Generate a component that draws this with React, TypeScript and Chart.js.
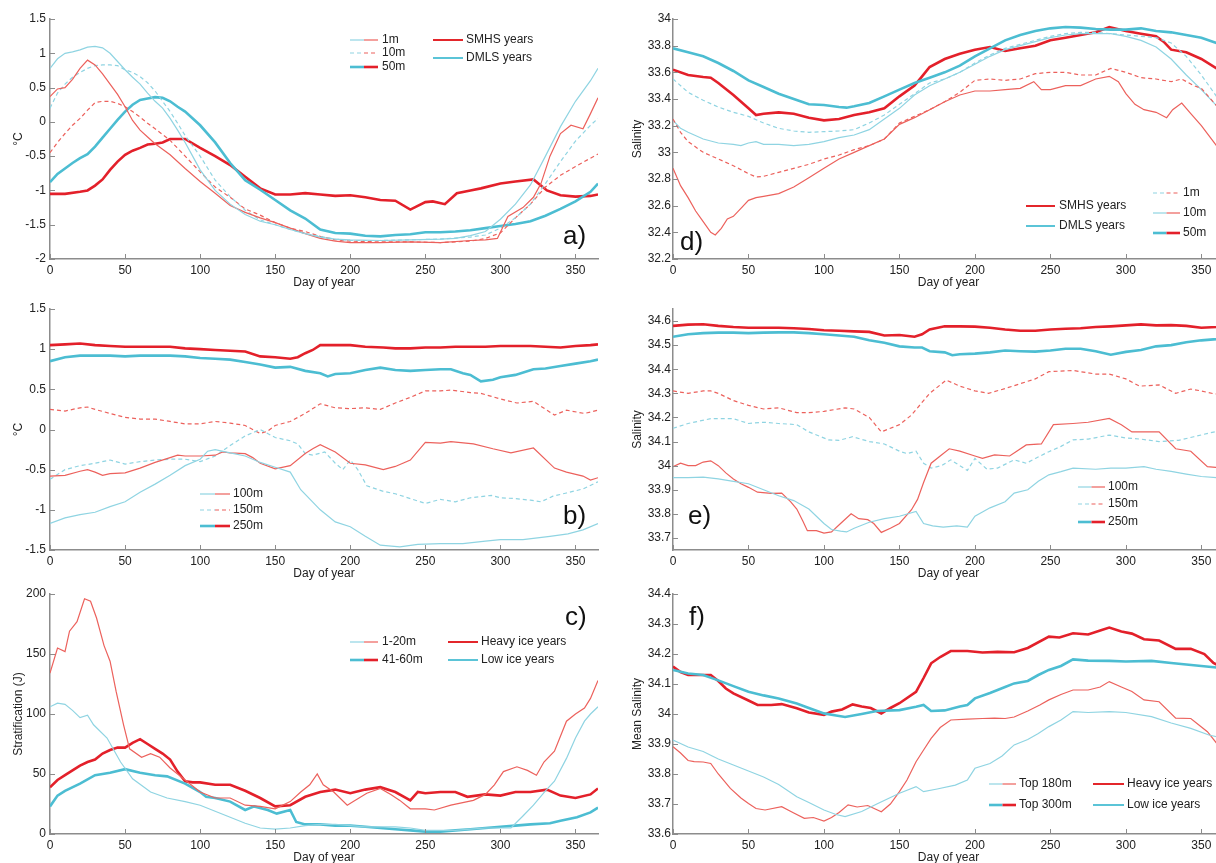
import React, { useEffect, useRef } from "react";
import { Chart, registerables } from "chart.js";
Chart.register(...registerables);

type Pt = [number, number];

// ---------- tick labels ----------
const X_TICKS = [0, 50, 100, 150, 200, 250, 300, 350];
const A_Y_TICKS = [-2, -1.5, -1, -0.5, 0, 0.5, 1, 1.5];
const B_Y_TICKS = [-1.5, -1, -0.5, 0, 0.5, 1, 1.5];
const C_Y_TICKS = [0, 50, 100, 150, 200];
const D_Y_TICKS = [32.2, 32.4, 32.6, 32.8, 33, 33.2, 33.4, 33.6, 33.8, 34];
const E_Y_TICKS = [33.7, 33.8, 33.9, 34, 34.1, 34.2, 34.3, 34.4, 34.5, 34.6];
const F_Y_TICKS = [33.6, 33.7, 33.8, 33.9, 34, 34.1, 34.2, 34.3, 34.4];

// ---------- panel a: temperature (°C), [day, value] ----------
const A_DMLS_1M: Pt[] = [[0,0.78],[5,0.92],[10,1.0],[15,1.02],[20,1.05],[25,1.09],[30,1.1],[35,1.08],[40,1.0],[45,0.88],[50,0.76],[55,0.65],[60,0.55],[65,0.42],[70,0.3],[75,0.2],[80,0.05],[85,-0.12],[90,-0.3],[95,-0.5],[100,-0.7],[110,-1.0],[120,-1.2],[130,-1.35],[140,-1.45],[150,-1.5],[160,-1.57],[170,-1.63],[180,-1.68],[190,-1.71],[200,-1.72],[220,-1.73],[240,-1.72],[260,-1.71],[270,-1.7],[280,-1.66],[290,-1.6],[300,-1.42],[310,-1.2],[320,-0.92],[330,-0.5],[340,-0.07],[350,0.3],[360,0.6],[365,0.78]];
const A_SMHS_1M: Pt[] = [[0,0.37],[5,0.48],[10,0.5],[15,0.62],[20,0.78],[25,0.9],[30,0.83],[35,0.7],[40,0.55],[45,0.4],[50,0.22],[55,0.02],[60,-0.12],[65,-0.22],[70,-0.32],[75,-0.4],[80,-0.48],[90,-0.68],[100,-0.87],[110,-1.04],[120,-1.22],[130,-1.32],[140,-1.4],[150,-1.47],[160,-1.55],[170,-1.63],[180,-1.7],[190,-1.74],[200,-1.76],[220,-1.76],[240,-1.75],[260,-1.76],[280,-1.73],[290,-1.72],[298,-1.7],[305,-1.38],[315,-1.25],[322,-1.1],[327,-0.9],[333,-0.5],[340,-0.17],[347,-0.05],[355,-0.1],[360,0.12],[365,0.35]];
const A_DMLS_10M: Pt[] = [[0,0.2],[5,0.42],[10,0.55],[15,0.65],[20,0.72],[25,0.78],[30,0.82],[35,0.83],[40,0.83],[45,0.82],[50,0.76],[55,0.72],[60,0.66],[65,0.57],[70,0.45],[75,0.3],[80,0.15],[85,-0.02],[90,-0.2],[100,-0.5],[110,-0.85],[120,-1.09],[130,-1.29],[140,-1.43],[150,-1.5],[160,-1.57],[170,-1.63],[180,-1.67],[190,-1.71],[200,-1.73],[220,-1.73],[240,-1.72],[260,-1.71],[280,-1.68],[290,-1.65],[300,-1.55],[310,-1.4],[320,-1.2],[330,-0.9],[340,-0.58],[350,-0.28],[360,-0.05],[365,0.05]];
const A_SMHS_10M: Pt[] = [[0,-0.45],[5,-0.3],[10,-0.17],[15,-0.05],[20,0.05],[25,0.17],[30,0.28],[35,0.3],[40,0.3],[45,0.27],[50,0.22],[55,0.15],[60,0.07],[65,-0.02],[70,-0.1],[80,-0.27],[90,-0.5],[100,-0.73],[110,-0.95],[120,-1.1],[130,-1.27],[140,-1.36],[150,-1.47],[160,-1.55],[170,-1.6],[180,-1.67],[190,-1.72],[200,-1.74],[220,-1.75],[240,-1.75],[260,-1.76],[280,-1.74],[290,-1.7],[300,-1.62],[310,-1.4],[320,-1.2],[330,-0.95],[340,-0.78],[350,-0.65],[360,-0.53],[365,-0.47]];
const A_DMLS_50M: Pt[] = [[0,-0.88],[5,-0.76],[10,-0.68],[15,-0.6],[20,-0.53],[25,-0.47],[30,-0.36],[35,-0.23],[40,-0.1],[45,0.03],[50,0.15],[55,0.25],[60,0.32],[65,0.34],[70,0.36],[75,0.35],[80,0.3],[85,0.22],[90,0.15],[100,-0.05],[110,-0.3],[120,-0.6],[130,-0.85],[140,-0.99],[150,-1.14],[160,-1.29],[170,-1.41],[180,-1.57],[190,-1.62],[200,-1.63],[210,-1.66],[220,-1.67],[230,-1.65],[240,-1.64],[250,-1.61],[260,-1.61],[270,-1.6],[280,-1.58],[290,-1.55],[300,-1.52],[310,-1.49],[320,-1.45],[330,-1.37],[340,-1.27],[350,-1.16],[360,-1.02],[365,-0.9]];
const A_SMHS_50M: Pt[] = [[0,-1.05],[10,-1.05],[20,-1.02],[25,-1.0],[30,-0.93],[35,-0.84],[40,-0.7],[45,-0.58],[50,-0.48],[55,-0.42],[60,-0.38],[65,-0.33],[70,-0.32],[75,-0.3],[80,-0.25],[90,-0.25],[100,-0.38],[110,-0.5],[120,-0.63],[130,-0.8],[140,-0.97],[150,-1.06],[160,-1.06],[170,-1.04],[180,-1.06],[190,-1.08],[200,-1.07],[210,-1.1],[220,-1.14],[230,-1.15],[240,-1.28],[250,-1.17],[255,-1.16],[263,-1.2],[271,-1.04],[280,-1.0],[287,-0.97],[300,-0.9],[310,-0.87],[322,-0.84],[331,-1.0],[340,-1.07],[350,-1.09],[360,-1.08],[365,-1.06]];

// ---------- panel b ----------
const B_DMLS_100: Pt[] = [[0,-1.17],[10,-1.1],[20,-1.06],[30,-1.03],[40,-0.96],[50,-0.9],[60,-0.78],[70,-0.68],[80,-0.57],[90,-0.45],[100,-0.37],[105,-0.27],[110,-0.25],[120,-0.29],[130,-0.33],[140,-0.41],[150,-0.47],[160,-0.53],[167,-0.75],[180,-1.0],[190,-1.15],[200,-1.21],[210,-1.33],[220,-1.44],[233,-1.46],[245,-1.43],[260,-1.42],[275,-1.42],[290,-1.39],[300,-1.37],[315,-1.37],[333,-1.33],[345,-1.3],[355,-1.25],[365,-1.17]];
const B_SMHS_100: Pt[] = [[0,-0.58],[10,-0.57],[20,-0.52],[25,-0.5],[30,-0.53],[35,-0.57],[40,-0.55],[50,-0.54],[60,-0.48],[70,-0.41],[80,-0.35],[85,-0.32],[90,-0.33],[100,-0.33],[110,-0.32],[115,-0.28],[120,-0.29],[130,-0.3],[135,-0.35],[140,-0.42],[150,-0.49],[160,-0.45],[170,-0.3],[175,-0.24],[180,-0.19],[190,-0.28],[200,-0.42],[210,-0.44],[222,-0.5],[230,-0.46],[240,-0.38],[250,-0.16],[260,-0.17],[267,-0.15],[282,-0.18],[295,-0.24],[307,-0.29],[322,-0.23],[336,-0.48],[344,-0.53],[355,-0.58],[360,-0.63],[365,-0.6]];
const B_DMLS_150: Pt[] = [[0,-0.62],[10,-0.5],[20,-0.45],[30,-0.42],[40,-0.38],[50,-0.43],[60,-0.4],[70,-0.38],[80,-0.37],[90,-0.37],[100,-0.4],[110,-0.33],[120,-0.2],[130,-0.08],[140,0.0],[150,-0.1],[160,-0.14],[165,-0.18],[170,-0.3],[175,-0.32],[183,-0.28],[190,-0.42],[195,-0.5],[200,-0.38],[205,-0.5],[211,-0.7],[222,-0.77],[230,-0.8],[240,-0.86],[250,-0.92],[260,-0.87],[270,-0.9],[280,-0.85],[294,-0.82],[300,-0.85],[310,-0.86],[320,-0.88],[327,-0.9],[335,-0.83],[344,-0.79],[355,-0.74],[365,-0.65]];
const B_SMHS_150: Pt[] = [[0,0.25],[10,0.23],[20,0.27],[25,0.28],[30,0.25],[40,0.2],[50,0.15],[60,0.13],[70,0.13],[80,0.1],[90,0.07],[100,0.07],[110,0.1],[120,0.08],[130,0.05],[140,-0.05],[145,-0.02],[150,0.05],[160,0.1],[170,0.2],[180,0.32],[190,0.27],[200,0.26],[210,0.27],[220,0.25],[230,0.33],[240,0.4],[250,0.48],[260,0.48],[267,0.49],[280,0.46],[287,0.45],[300,0.38],[311,0.33],[322,0.35],[336,0.18],[344,0.24],[356,0.2],[365,0.24]];
const B_DMLS_250: Pt[] = [[0,0.85],[10,0.9],[20,0.92],[30,0.92],[40,0.92],[50,0.91],[60,0.92],[70,0.92],[80,0.92],[90,0.91],[100,0.89],[110,0.88],[120,0.87],[130,0.84],[140,0.81],[150,0.77],[160,0.78],[170,0.73],[180,0.7],[185,0.66],[190,0.69],[200,0.7],[210,0.74],[220,0.77],[230,0.74],[240,0.73],[250,0.74],[260,0.75],[267,0.75],[275,0.7],[280,0.68],[287,0.6],[295,0.62],[300,0.65],[310,0.68],[322,0.75],[330,0.76],[340,0.79],[350,0.82],[360,0.85],[365,0.87]];
const B_SMHS_250: Pt[] = [[0,1.05],[10,1.06],[20,1.07],[30,1.05],[40,1.04],[50,1.03],[60,1.03],[70,1.03],[80,1.03],[90,1.01],[100,1.0],[110,0.99],[120,0.98],[130,0.97],[140,0.91],[150,0.9],[160,0.88],[165,0.9],[170,0.95],[175,0.99],[180,1.05],[190,1.05],[200,1.05],[210,1.03],[222,1.02],[230,1.01],[240,1.01],[250,1.02],[260,1.02],[270,1.03],[280,1.03],[290,1.03],[300,1.04],[310,1.04],[320,1.04],[330,1.03],[340,1.02],[350,1.04],[360,1.05],[365,1.06]];

// ---------- panel c: stratification ----------
const C_LOW_1_20: Pt[] = [[0,106],[5,109],[10,108],[15,103],[20,97],[25,99],[29,91],[38,80],[47,60],[55,46],[67,35],[78,30],[90,27],[100,24],[110,19],[120,14],[130,9],[140,5],[150,4],[160,5],[170,7],[180,8],[190,8],[200,7],[210,6],[220,6],[230,6],[240,5],[250,3],[260,3],[270,3],[280,4],[290,5],[300,5],[307,5],[315,15],[322,24],[330,36],[336,44],[344,63],[350,80],[356,94],[360,100],[365,106]];
const C_HEAVY_1_20: Pt[] = [[0,134],[5,155],[10,152],[13,169],[18,177],[23,196],[27,194],[31,180],[36,157],[40,144],[44,119],[49,91],[53,71],[61,64],[67,67],[73,64],[80,55],[90,45],[100,35],[110,30],[120,30],[130,24],[140,23],[150,21],[160,27],[167,35],[173,41],[178,50],[182,41],[189,35],[198,24],[202,27],[211,34],[220,38],[227,33],[233,28],[240,21],[250,21],[256,20],[267,24],[282,28],[290,33],[296,41],[302,52],[311,56],[318,53],[324,49],[329,60],[336,69],[344,94],[350,100],[356,105],[360,113],[365,128]];
const C_LOW_41_60: Pt[] = [[0,23],[5,32],[10,36],[20,42],[30,49],[40,51],[50,54],[60,51],[70,49],[78,48],[90,42],[100,35],[104,31],[110,30],[120,27],[130,20],[136,23],[145,20],[151,17],[160,20],[164,10],[170,8],[180,8],[190,7],[200,7],[210,6],[220,5],[230,4],[240,3],[250,2],[260,2],[270,3],[280,4],[290,5],[300,6],[310,7],[320,8],[333,9],[340,11],[351,14],[360,18],[365,22]];
const C_HEAVY_41_60: Pt[] = [[0,39],[5,45],[10,49],[15,53],[20,57],[25,60],[30,62],[35,67],[40,70],[45,72],[50,72],[55,76],[60,79],[65,75],[70,71],[75,67],[80,62],[85,52],[90,44],[95,43],[100,43],[110,41],[120,41],[130,36],[140,30],[150,23],[160,24],[170,31],[180,35],[190,37],[200,34],[210,37],[220,39],[230,35],[240,28],[245,35],[250,34],[260,35],[270,35],[278,31],[290,33],[300,32],[310,35],[320,35],[331,37],[340,32],[350,30],[360,33],[365,38]];

// ---------- panel d: salinity ----------
const D_DMLS_1M: Pt[] = [[0,33.55],[10,33.45],[20,33.39],[30,33.34],[40,33.3],[50,33.27],[60,33.22],[70,33.18],[80,33.16],[90,33.15],[100,33.155],[110,33.16],[120,33.17],[130,33.22],[140,33.28],[150,33.36],[160,33.44],[170,33.52],[180,33.55],[190,33.6],[200,33.67],[210,33.73],[220,33.78],[230,33.81],[240,33.84],[250,33.87],[260,33.89],[270,33.9],[280,33.9],[290,33.89],[300,33.88],[310,33.87],[320,33.86],[330,33.82],[340,33.72],[350,33.58],[360,33.42],[365,33.35]];
const D_SMHS_1M: Pt[] = [[0,33.25],[5,33.15],[10,33.08],[20,33.0],[30,32.95],[40,32.9],[50,32.84],[55,32.815],[60,32.82],[70,32.85],[80,32.88],[90,32.91],[100,32.95],[110,32.98],[120,33.02],[130,33.05],[140,33.1],[150,33.22],[160,33.27],[170,33.32],[180,33.38],[190,33.45],[200,33.54],[210,33.55],[220,33.54],[230,33.55],[240,33.59],[250,33.6],[260,33.6],[270,33.58],[280,33.58],[290,33.63],[300,33.6],[310,33.56],[320,33.55],[330,33.53],[337,33.55],[345,33.5],[350,33.48],[360,33.35],[365,33.3]];
const D_DMLS_10M: Pt[] = [[0,33.24],[5,33.18],[10,33.15],[20,33.1],[30,33.07],[40,33.06],[45,33.05],[50,33.07],[55,33.08],[60,33.06],[70,33.06],[80,33.05],[90,33.06],[100,33.08],[110,33.11],[120,33.13],[130,33.17],[140,33.25],[150,33.33],[160,33.43],[170,33.5],[180,33.55],[190,33.6],[200,33.66],[210,33.72],[220,33.77],[230,33.8],[240,33.83],[250,33.86],[260,33.88],[270,33.89],[280,33.89],[290,33.89],[300,33.87],[310,33.84],[320,33.79],[330,33.7],[340,33.58],[350,33.47],[360,33.35],[365,33.3]];
const D_SMHS_10M: Pt[] = [[0,32.88],[5,32.75],[10,32.66],[15,32.56],[20,32.48],[25,32.4],[28,32.38],[32,32.43],[36,32.5],[40,32.52],[45,32.58],[50,32.64],[55,32.66],[60,32.67],[70,32.69],[80,32.74],[90,32.81],[100,32.88],[110,32.95],[120,33.0],[130,33.05],[140,33.1],[150,33.21],[160,33.26],[170,33.32],[180,33.38],[190,33.43],[200,33.46],[210,33.46],[220,33.47],[230,33.48],[239,33.53],[244,33.47],[250,33.47],[260,33.5],[270,33.5],[280,33.55],[289,33.57],[295,33.53],[300,33.44],[306,33.36],[312,33.32],[320,33.3],[327,33.26],[331,33.32],[337,33.37],[343,33.29],[350,33.2],[360,33.05],[365,32.98]];
const D_DMLS_50M: Pt[] = [[0,33.78],[10,33.75],[20,33.72],[30,33.67],[40,33.61],[50,33.54],[60,33.49],[70,33.44],[80,33.4],[90,33.36],[100,33.355],[110,33.34],[115,33.335],[120,33.345],[130,33.37],[140,33.42],[150,33.47],[160,33.52],[170,33.56],[180,33.6],[190,33.65],[200,33.72],[210,33.78],[220,33.84],[230,33.88],[240,33.91],[250,33.93],[260,33.94],[270,33.935],[280,33.925],[290,33.92],[300,33.92],[310,33.93],[320,33.91],[330,33.9],[340,33.88],[350,33.86],[360,33.82],[365,33.8]];
const D_SMHS_50M: Pt[] = [[0,33.62],[10,33.58],[20,33.565],[25,33.56],[30,33.52],[40,33.43],[50,33.33],[55,33.28],[60,33.29],[70,33.3],[80,33.29],[90,33.26],[100,33.24],[110,33.25],[120,33.28],[130,33.3],[140,33.33],[150,33.42],[160,33.5],[165,33.57],[170,33.64],[180,33.7],[190,33.74],[200,33.77],[210,33.79],[220,33.76],[230,33.78],[240,33.8],[250,33.84],[260,33.86],[270,33.88],[280,33.9],[289,33.94],[300,33.91],[310,33.89],[320,33.87],[325,33.83],[330,33.77],[340,33.75],[350,33.7],[360,33.63],[365,33.61]];

// ---------- panel e ----------
const E_DMLS_100: Pt[] = [[0,33.95],[10,33.95],[20,33.952],[30,33.945],[40,33.935],[50,33.925],[60,33.9],[70,33.875],[80,33.855],[90,33.82],[100,33.76],[105,33.735],[111,33.728],[115,33.725],[120,33.74],[130,33.765],[140,33.78],[150,33.79],[161,33.81],[166,33.76],[172,33.75],[179,33.745],[188,33.75],[195,33.745],[200,33.79],[210,33.825],[220,33.85],[226,33.886],[235,33.9],[242,33.935],[249,33.962],[257,33.975],[265,33.99],[280,33.985],[290,33.99],[300,33.99],[312,33.996],[320,33.985],[330,33.976],[340,33.965],[350,33.955],[360,33.95],[365,33.948]];
const E_SMHS_100: Pt[] = [[0,33.996],[5,34.01],[10,34.0],[15,34.0],[20,34.015],[25,34.02],[30,34.0],[35,33.97],[40,33.945],[45,33.925],[50,33.91],[56,33.89],[65,33.885],[72,33.886],[78,33.85],[82,33.82],[86,33.77],[89,33.73],[95,33.73],[100,33.72],[105,33.725],[111,33.76],[118,33.8],[123,33.78],[129,33.776],[133,33.76],[138,33.723],[144,33.74],[150,33.76],[158,33.817],[162,33.86],[166,33.93],[171,34.01],[177,34.04],[183,34.07],[190,34.06],[200,34.04],[205,34.03],[213,34.045],[223,34.04],[234,34.086],[244,34.09],[252,34.17],[265,34.175],[275,34.18],[289,34.196],[297,34.17],[304,34.14],[315,34.14],[322,34.14],[333,34.07],[343,34.06],[354,33.996],[365,33.99]];
const E_DMLS_150: Pt[] = [[0,34.155],[10,34.175],[25,34.195],[40,34.195],[50,34.175],[60,34.18],[70,34.175],[82,34.17],[90,34.14],[103,34.107],[110,34.105],[119,34.12],[130,34.1],[140,34.09],[150,34.06],[155,34.05],[161,34.06],[166,34.01],[171,33.99],[178,34.0],[184,34.024],[190,34.0],[195,33.98],[200,34.03],[208,33.985],[215,33.99],[226,34.024],[234,34.01],[240,34.03],[249,34.058],[257,34.08],[265,34.107],[275,34.11],[289,34.127],[300,34.115],[310,34.11],[322,34.1],[335,34.105],[345,34.12],[355,34.135],[365,34.148]];
const E_SMHS_150: Pt[] = [[0,34.31],[10,34.3],[20,34.31],[25,34.31],[30,34.3],[40,34.27],[50,34.25],[60,34.235],[70,34.24],[82,34.22],[90,34.22],[100,34.225],[114,34.24],[120,34.235],[130,34.2],[138,34.14],[150,34.17],[158,34.21],[170,34.3],[181,34.355],[190,34.33],[200,34.31],[209,34.3],[220,34.32],[230,34.34],[240,34.36],[249,34.39],[265,34.395],[280,34.38],[289,34.38],[300,34.36],[309,34.33],[322,34.335],[333,34.3],[343,34.318],[350,34.31],[359,34.297],[365,34.3]];
const E_DMLS_250: Pt[] = [[0,34.535],[10,34.545],[20,34.55],[30,34.552],[40,34.552],[50,34.55],[60,34.552],[70,34.553],[80,34.553],[90,34.55],[100,34.545],[110,34.54],[120,34.535],[130,34.52],[140,34.51],[150,34.495],[160,34.49],[165,34.49],[170,34.475],[180,34.47],[185,34.458],[190,34.462],[200,34.465],[210,34.47],[220,34.478],[230,34.475],[240,34.473],[250,34.478],[260,34.485],[270,34.485],[280,34.475],[290,34.46],[300,34.472],[310,34.48],[320,34.495],[330,34.5],[340,34.512],[350,34.52],[360,34.525],[365,34.53]];
const E_SMHS_250: Pt[] = [[0,34.58],[10,34.585],[20,34.587],[30,34.58],[40,34.575],[50,34.572],[60,34.572],[70,34.572],[80,34.57],[90,34.567],[100,34.562],[110,34.56],[120,34.557],[130,34.555],[140,34.54],[150,34.542],[160,34.535],[165,34.545],[170,34.565],[180,34.578],[190,34.578],[200,34.577],[210,34.572],[220,34.565],[230,34.56],[240,34.56],[250,34.565],[260,34.568],[270,34.57],[280,34.575],[290,34.578],[300,34.582],[310,34.586],[320,34.582],[330,34.583],[340,34.58],[350,34.572],[360,34.575],[365,34.578]];

// ---------- panel f: mean salinity ----------
const F_LOW_180: Pt[] = [[0,33.913],[10,33.89],[20,33.875],[30,33.85],[40,33.83],[50,33.81],[60,33.79],[70,33.765],[82,33.724],[90,33.705],[100,33.68],[108,33.665],[114,33.658],[125,33.675],[135,33.7],[150,33.736],[161,33.758],[166,33.741],[175,33.75],[187,33.763],[195,33.78],[200,33.819],[210,33.835],[218,33.86],[226,33.897],[235,33.915],[242,33.935],[249,33.958],[257,33.98],[265,34.008],[275,34.005],[289,34.008],[300,34.005],[317,33.991],[330,33.97],[343,33.952],[355,33.93],[365,33.919]];
const F_HEAVY_180: Pt[] = [[0,33.891],[5,33.87],[10,33.845],[14,33.841],[20,33.84],[25,33.835],[30,33.8],[38,33.752],[45,33.72],[50,33.702],[55,33.685],[61,33.68],[72,33.691],[80,33.67],[87,33.652],[93,33.655],[100,33.643],[105,33.655],[110,33.672],[116,33.697],[122,33.69],[129,33.695],[138,33.674],[144,33.7],[150,33.741],[155,33.78],[161,33.841],[166,33.88],[171,33.919],[177,33.955],[184,33.98],[195,33.983],[205,33.985],[213,33.986],[220,33.985],[226,33.99],[235,34.01],[243,34.03],[249,34.047],[257,34.065],[265,34.08],[275,34.08],[283,34.09],[289,34.108],[297,34.09],[304,34.075],[312,34.047],[322,34.041],[333,33.986],[343,33.985],[354,33.941],[361,33.897],[365,33.89]];
const F_LOW_300: Pt[] = [[0,34.147],[10,34.135],[20,34.13],[30,34.112],[40,34.093],[50,34.074],[60,34.062],[70,34.052],[82,34.035],[90,34.02],[100,34.002],[108,33.995],[114,33.99],[125,34.0],[135,34.01],[150,34.013],[161,34.024],[166,34.03],[171,34.01],[180,34.012],[190,34.025],[195,34.03],[200,34.052],[210,34.07],[220,34.09],[226,34.102],[235,34.11],[242,34.13],[249,34.147],[257,34.16],[265,34.182],[275,34.178],[289,34.177],[300,34.175],[317,34.177],[330,34.17],[340,34.165],[350,34.16],[360,34.155],[365,34.152]];
const F_HEAVY_300: Pt[] = [[0,34.158],[5,34.14],[10,34.13],[20,34.13],[25,34.13],[30,34.11],[35,34.085],[40,34.069],[50,34.045],[56,34.03],[65,34.03],[72,34.033],[82,34.019],[90,34.005],[100,33.997],[105,34.008],[112,34.015],[119,34.032],[125,34.025],[131,34.02],[138,34.002],[144,34.02],[150,34.036],[161,34.074],[166,34.12],[171,34.169],[177,34.19],[184,34.21],[195,34.21],[205,34.205],[215,34.207],[226,34.206],[235,34.22],[249,34.258],[256,34.255],[265,34.269],[275,34.265],[283,34.278],[289,34.288],[297,34.275],[304,34.268],[312,34.249],[322,34.245],[333,34.217],[343,34.217],[352,34.2],[358,34.17],[365,34.152]];

// ---------- styles ----------
const FONT = '"Liberation Sans", Arial, Helvetica, sans-serif';
const TEXT = "#222222";
const AXIS = "#8c8c8c";
const RED = "#e3202a";
const RED_THIN = "#ec615c";
const CYAN = "#4cbdd2";
const CYAN_THIN = "#8fd4e2";
const RED_MED = "#e3262b";
const CYAN_MED = "#5bc4d7";
const W_THIN = 1.2;
const W_THICK = 2.6;
const DASH = [4, 3];

interface Line { data: Pt[]; color: string; width: number; dash?: number[] }
interface LegendItem { x1: number; x2: number; y: number; c1: string; c2: string; w: number; dash?: number[]; text: string; tx: number }
interface Panel {
  left: number; top: number; plotW: number; plotH: number;
  yMin: number; yMax: number; yTicks: number[]; yTitle: string;
  titlePad: number; tickPad: number;
  lines: Line[]; legend: LegendItem[];
  label: string; labelX: number; labelY: number;
}

const thin = (d: Pt[], c: string): Line => ({ data: d, color: c, width: W_THIN });
const dashed = (d: Pt[], c: string): Line => ({ data: d, color: c, width: W_THIN, dash: DASH });
const thick = (d: Pt[], c: string): Line => ({ data: d, color: c, width: W_THICK });

function depthLegend(x1: number, x2: number, tx: number, ys: number[], texts: string[], kinds: ("thin" | "dash" | "thick")[]): LegendItem[] {
  return ys.map((y, i) => {
    const k = kinds[i];
    return {
      x1, x2, y, tx, text: texts[i],
      c1: k === "thick" ? CYAN : CYAN_THIN,
      c2: k === "thick" ? RED : RED_THIN,
      w: k === "thick" ? W_THICK : W_THIN,
      dash: k === "dash" ? DASH : undefined,
    };
  });
}
function groupLegend(x1: number, x2: number, tx: number, ys: number[], texts: string[]): LegendItem[] {
  return ys.map((y, i) => ({ x1, x2, y, tx, text: texts[i], c1: i === 0 ? RED_MED : CYAN_MED, c2: i === 0 ? RED_MED : CYAN_MED, w: 2 }));
}

const PANELS: Panel[] = [
  {
    left: 50, top: 19, plotW: 548, plotH: 240, yMin: -2, yMax: 1.5, yTicks: A_Y_TICKS, yTitle: "°C", titlePad: 11, tickPad: 4,
    lines: [thin(A_DMLS_1M, CYAN_THIN), thin(A_SMHS_1M, RED_THIN), dashed(A_DMLS_10M, CYAN_THIN), dashed(A_SMHS_10M, RED_THIN), thick(A_DMLS_50M, CYAN), thick(A_SMHS_50M, RED)],
    legend: [...depthLegend(350, 378, 382, [40, 53, 67], ["1m", "10m", "50m"], ["thin", "dash", "thick"]), ...groupLegend(433, 463, 466, [40, 58], ["SMHS years", "DMLS years"])],
    label: "a)", labelX: 563, labelY: 237,
  },
  {
    left: 50, top: 309, plotW: 548, plotH: 241, yMin: -1.5, yMax: 1.5, yTicks: B_Y_TICKS, yTitle: "°C", titlePad: 11, tickPad: 4,
    lines: [thin(B_DMLS_100, CYAN_THIN), thin(B_SMHS_100, RED_THIN), dashed(B_DMLS_150, CYAN_THIN), dashed(B_SMHS_150, RED_THIN), thick(B_DMLS_250, CYAN), thick(B_SMHS_250, RED)],
    legend: depthLegend(200, 230, 233, [494, 510, 526], ["100m", "150m", "250m"], ["thin", "dash", "thick"]),
    label: "b)", labelX: 563, labelY: 517,
  },
  {
    left: 50, top: 594, plotW: 548, plotH: 240, yMin: 0, yMax: 200, yTicks: C_Y_TICKS, yTitle: "Stratification (J)", titlePad: 11, tickPad: 4,
    lines: [thin(C_LOW_1_20, CYAN_THIN), thin(C_HEAVY_1_20, RED_THIN), thick(C_LOW_41_60, CYAN), thick(C_HEAVY_41_60, RED)],
    legend: [...depthLegend(350, 378, 382, [642, 660], ["1-20m", "41-60m"], ["thin", "thick"]), ...groupLegend(448, 478, 481, [642, 660], ["Heavy ice years", "Low ice years"])],
    label: "c)", labelX: 565, labelY: 618,
  },
  {
    left: 673, top: 19, plotW: 551, plotH: 240, yMin: 32.2, yMax: 34, yTicks: D_Y_TICKS, yTitle: "Salinity", titlePad: 7, tickPad: 2,
    lines: [dashed(D_DMLS_1M, CYAN_THIN), dashed(D_SMHS_1M, RED_THIN), thin(D_DMLS_10M, CYAN_THIN), thin(D_SMHS_10M, RED_THIN), thick(D_DMLS_50M, CYAN), thick(D_SMHS_50M, RED)],
    legend: [...groupLegend(1026, 1055, 1059, [206, 226], ["SMHS years", "DMLS years"]), ...depthLegend(1153, 1180, 1183, [193, 213, 233], ["1m", "10m", "50m"], ["dash", "thin", "thick"])],
    label: "d)", labelX: 680, labelY: 243,
  },
  {
    left: 673, top: 309, plotW: 551, plotH: 241, yMin: 33.65, yMax: 34.65, yTicks: E_Y_TICKS, yTitle: "Salinity", titlePad: 7, tickPad: 2,
    lines: [thin(E_DMLS_100, CYAN_THIN), thin(E_SMHS_100, RED_THIN), dashed(E_DMLS_150, CYAN_THIN), dashed(E_SMHS_150, RED_THIN), thick(E_DMLS_250, CYAN), thick(E_SMHS_250, RED)],
    legend: depthLegend(1078, 1105, 1108, [487, 504, 522], ["100m", "150m", "250m"], ["thin", "dash", "thick"]),
    label: "e)", labelX: 688, labelY: 517,
  },
  {
    left: 673, top: 594, plotW: 551, plotH: 240, yMin: 33.6, yMax: 34.4, yTicks: F_Y_TICKS, yTitle: "Mean Salinity", titlePad: 7, tickPad: 2,
    lines: [thin(F_LOW_180, CYAN_THIN), thin(F_HEAVY_180, RED_THIN), thick(F_LOW_300, CYAN), thick(F_HEAVY_300, RED)],
    legend: [...depthLegend(989, 1016, 1019, [784, 805], ["Top 180m", "Top 300m"], ["thin", "thick"]), ...groupLegend(1093, 1124, 1127, [784, 805], ["Heavy ice years", "Low ice years"])],
    label: "f)", labelX: 689, labelY: 618,
  },
];

const LEFT_W = 50;
const TOP_PAD = 15;
const X_H = 32;
const RIGHT_PAD = 6;

const fmt = (v: number) => String(Number(v.toFixed(2)));

function PanelChart({ p }: { p: Panel }) {
  const ref = useRef<HTMLCanvasElement>(null);
  const cw = LEFT_W + p.plotW + RIGHT_PAD;
  const ch = TOP_PAD + p.plotH + X_H;
  const cx = p.left - LEFT_W;
  const cy = p.top - TOP_PAD;

  useEffect(() => {
    const canvas = ref.current;
    if (!canvas) return;
    const overlay = {
      id: "overlay" + p.label,
      afterDraw(chart: any) {
        const ctx: CanvasRenderingContext2D = chart.ctx;
        const xs = chart.scales.x;
        const ys = chart.scales.y;
        const area = chart.chartArea;
        ctx.save();
        // inward tick marks
        ctx.strokeStyle = AXIS;
        ctx.lineWidth = 1;
        ctx.setLineDash([]);
        X_TICKS.forEach((v) => {
          const x = Math.round(xs.getPixelForValue(v)) + 0.5;
          ctx.beginPath();
          ctx.moveTo(x, area.bottom);
          ctx.lineTo(x, area.bottom - 5);
          ctx.stroke();
        });
        p.yTicks.forEach((v) => {
          const y = Math.round(ys.getPixelForValue(v)) + 0.5;
          ctx.beginPath();
          ctx.moveTo(area.left, y);
          ctx.lineTo(area.left + 5, y);
          ctx.stroke();
        });
        // legend
        ctx.font = `12px ${FONT}`;
        ctx.textBaseline = "middle";
        ctx.textAlign = "left";
        p.legend.forEach((it) => {
          const y = it.y - cy;
          const x1 = it.x1 - cx;
          const x2 = it.x2 - cx;
          const mid = (x1 + x2) / 2;
          ctx.lineWidth = it.w;
          ctx.setLineDash(it.dash ?? []);
          ctx.strokeStyle = it.c1;
          ctx.beginPath();
          ctx.moveTo(x1, y);
          ctx.lineTo(it.c1 === it.c2 ? x2 : mid, y);
          ctx.stroke();
          if (it.c1 !== it.c2) {
            ctx.strokeStyle = it.c2;
            ctx.beginPath();
            ctx.moveTo(mid, y);
            ctx.lineTo(x2, y);
            ctx.stroke();
          }
          ctx.setLineDash([]);
          ctx.fillStyle = TEXT;
          ctx.fillText(it.text, it.tx - cx, y);
        });
        // panel label
        ctx.font = `26px ${FONT}`;
        ctx.fillStyle = "#111";
        ctx.fillText(p.label, p.labelX - cx, p.labelY - cy);
        ctx.restore();
      },
    };

    const chart = new Chart(canvas, {
      type: "line",
      data: {
        datasets: p.lines.map((l) => ({
          data: l.data.map(([x, y]) => ({ x, y })),
          borderColor: l.color,
          backgroundColor: l.color,
          borderWidth: l.width,
          borderDash: l.dash ?? [],
          pointRadius: 0,
          tension: 0,
          fill: false,
        })),
      },
      options: {
        animation: false,
        responsive: false,
        devicePixelRatio: 1,
        events: [],
        layout: { padding: { top: TOP_PAD, right: RIGHT_PAD, left: 0, bottom: 0 } },
        plugins: { legend: { display: false }, tooltip: { enabled: false } },
        scales: {
          x: {
            type: "linear",
            min: 0,
            max: 365,
            afterBuildTicks: (s: any) => { s.ticks = X_TICKS.map((v) => ({ value: v })); },
            afterFit: (s: any) => { s.height = X_H; },
            grid: { display: false, drawTicks: false },
            border: { display: true, color: AXIS, width: 1.5 },
            ticks: { color: TEXT, font: { family: FONT, size: 12 }, padding: 4, maxRotation: 0, autoSkip: false, callback: (v: any) => fmt(Number(v)) },
            title: { display: true, text: "Day of year", color: TEXT, font: { family: FONT, size: 12 }, padding: { top: 0, bottom: 1 } },
          },
          y: {
            type: "linear",
            min: p.yMin,
            max: p.yMax,
            afterBuildTicks: (s: any) => { s.ticks = p.yTicks.map((v) => ({ value: v })); },
            afterFit: (s: any) => { s.width = LEFT_W; },
            grid: { display: false, drawTicks: false },
            border: { display: true, color: AXIS, width: 1.5 },
            ticks: { color: TEXT, font: { family: FONT, size: 12 }, padding: p.tickPad, autoSkip: false, callback: (v: any) => fmt(Number(v)) },
            title: { display: true, text: p.yTitle, color: TEXT, font: { family: FONT, size: 12 }, padding: { top: p.titlePad, bottom: 0 } },
          },
        },
      } as any,
      plugins: [overlay],
    });
    return () => chart.destroy();
  }, [p]);

  return (
    <canvas
      ref={ref}
      width={cw}
      height={ch}
      style={{ position: "absolute", left: cx, top: cy, width: cw, height: ch }}
    />
  );
}

export default function App() {
  return (
    <div style={{ position: "fixed", left: 0, top: 0, width: 1216, height: 863, overflow: "hidden", background: "#ffffff" }}>
      {PANELS.map((p) => (
        <PanelChart key={p.label} p={p} />
      ))}
    </div>
  );
}
